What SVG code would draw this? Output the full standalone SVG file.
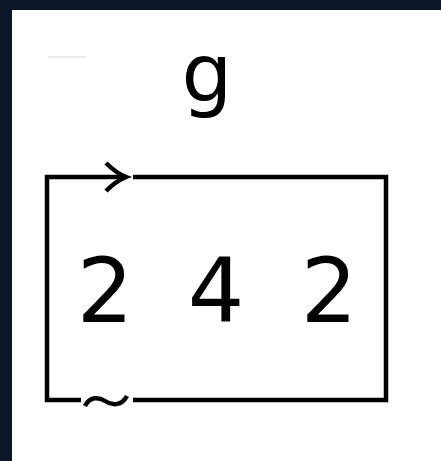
<svg xmlns="http://www.w3.org/2000/svg" width="441" height="461" viewBox="0 0 441 461">
<style>
.ln{fill:none;stroke:#000;stroke-width:4.5;stroke-linecap:butt;stroke-linejoin:miter}
.t{font-family:"DejaVu Sans",sans-serif;fill:#000;text-anchor:middle}
</style>
<rect x="0" y="0" width="441" height="461" fill="#0b1628"/>
<rect x="12" y="10" width="429" height="451" fill="#ffffff"/>
<line x1="48" y1="57" x2="87" y2="57" stroke="#ececec" stroke-width="2"/>
<g id="label-g"><text class="t" x="207" y="101" font-size="80">g</text></g>
<g id="box">
<text class="t" x="105" y="322" font-size="89">2</text>
<text class="t" x="216" y="321" font-size="89">4</text>
<text class="t" x="329" y="322" font-size="89">2</text>
</g>
<g id="connectors">
<path class="ln" d="M126,177 H47 V400 H81"/>
<path class="ln" d="M133,177 H386 V400 H133"/>
<path class="ln" d="M106,163 Q116,173 126,177 Q116,181 106,191"/>
<path class="ln" stroke-width="4" d="M85,406 C90,396 99,397 105,401 S121,407 127,396"/>
</g>
</svg>
